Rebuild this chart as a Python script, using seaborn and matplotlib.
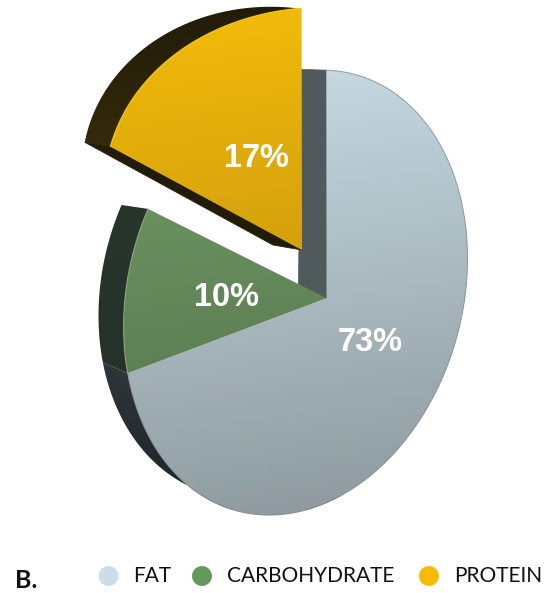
import numpy as np
import matplotlib
matplotlib.use("Agg")
import matplotlib.pyplot as plt
from matplotlib.colors import LinearSegmentedColormap
from matplotlib.patches import Polygon
import seaborn as sns

categories = ["FAT", "CARBOHYDRATE", "PROTEIN"]
values = [73, 10, 17]
pct_labels = ["73%", "10%", "17%"]
legend_colors = ["#c9dee6", "#629a5a", "#f7ba00"]


def fit_h(src, dst):
    # plain DLT, disc coords -> pixels
    rows = []
    for (x, y), (u, v) in zip(src, dst):
        rows.append([x, y, 1, 0, 0, 0, -u * x, -u * y, -u])
        rows.append([0, 0, 0, x, y, 1, -v * x, -v * y, -v])
    _, _, vt = np.linalg.svd(np.array(rows))
    return vt[-1].reshape(3, 3)


def project(h, xy):
    p = np.c_[xy, np.ones(len(xy))] @ h.T
    return p[:, :2] / p[:, 2:]


def gradient(ax, poly, top, bottom, box):
    # near vertical fill clipped to the wedge, bands rise slightly to the right
    cmap = LinearSegmentedColormap.from_list("g", [top, bottom])
    yy, xx = np.mgrid[0:1:100j, 0:1:100j]
    im = ax.imshow(yy + 0.12 * (xx - 0.5), cmap=cmap, extent=box, aspect="auto", zorder=poly.get_zorder(),
                   vmin=-0.06, vmax=1.06)
    im.set_clip_path(poly)


sns.set_theme(style="white")
fig = plt.figure(figsize=(5.58, 5.93), dpi=100)

# pie is only used to get the wedge angles
helper = fig.add_axes([0, 0, 0.1, 0.1])
wedges, _ = helper.pie(values, startangle=90, counterclock=False)
angles = [(w.theta1, w.theta2) for w in wedges]
helper.remove()

ax = fig.add_axes([0, 0, 1, 1])
ax.axis("off")

disc = [(0, 0), (0, 1), (-0.992, -0.125), (-0.876, 0.482), (1, 0), (0, -1)]
h_front = fit_h(disc, [(327, 298), (327, 70), (128, 372), (147, 210), (467, 268), (327, 503)])
h_back = fit_h(disc, [(298, 298), (302, 70), (104, 361), (120, 204), (440, 268), (296, 489)])
disc_p = [(0, 0), (0, 1), (-0.876, 0.482), (-0.5, 0.866), (-0.714, 0.7)]
h_front_p = fit_h(disc_p, [(302, 250), (302, 8), (109, 147), (170, 57), (136, 98)])
h_back_p = fit_h(disc_p, [(273, 245), (296, 8), (82, 142), (147, 43), (113, 90)])

styles = [
    dict(front=h_front, back=h_back, top="#c9dee6", bottom="#8a9599", wall=("#31393e", "#1b2223"),
         side="#50595c", rim="#eef3f5", box=(110, 485, 530, 60), wall_box=(85, 340, 510, 345)),
    dict(front=h_front, back=h_back, top="#6b9160", bottom="#5b7d52", wall=("#27352a", "#25322a"),
         side="#27352a", rim="#86ad7c", box=(115, 335, 385, 200), wall_box=(90, 160, 390, 195)),
    dict(front=h_front_p, back=h_back_p, top="#f6bd0a", bottom="#d2a00d", wall=("#1e1908", "#3a2d0c"),
         side="#211b08", rim="#ffd400", box=(100, 310, 255, 0), wall_box=(75, 310, 155, 0)),
]

for i, ((t1, t2), st) in enumerate(zip(angles, styles)):
    a = np.radians(np.linspace(t2, t1, 160))
    arc = np.c_[np.cos(a), np.sin(a)]
    centre = np.zeros((1, 2))
    base = 10 * i

    f_arc = project(st["front"], arc)
    b_arc = project(st["back"], arc)
    f_c = project(st["front"], centre)
    b_c = project(st["back"], centre)

    strip = Polygon(np.r_[f_arc, b_arc[::-1]], fc="none", ec="none", zorder=base + 1)
    ax.add_patch(strip)
    gradient(ax, strip, st["wall"][0], st["wall"][1], st["wall_box"])
    if i != 1:
        # wall behind the top edge of fat, underside of the pulled out protein slice
        ax.add_patch(Polygon(np.r_[f_arc[:1], b_arc[:1], b_c, f_c], fc=st["side"], ec=st["side"], lw=0.5,
                             zorder=base + 1))

    face = Polygon(np.r_[f_arc, f_c], fc="none", ec="none", zorder=base + 2)
    ax.add_patch(face)
    gradient(ax, face, st["top"], st["bottom"], st["box"])
    if i == 0:
        ax.plot(f_arc[:, 0], f_arc[:, 1], color="#7d888c", lw=0.7, alpha=0.8, zorder=base + 3)
    else:
        ax.plot(f_arc[:, 0], f_arc[:, 1], color=st["rim"], lw=0.9, alpha=0.7, zorder=base + 3)

ax.set_xlim(0, 558)
ax.set_ylim(593, 0)

label_x = [370, 226, 256]
label_y = [342.5, 297.5, 158.5]
for x, y, txt in zip(label_x, label_y, pct_labels):
    ax.text(x, y, txt, color="white", fontsize=23.5, fontweight="bold", family="Liberation Sans",
            ha="center", va="center", zorder=40)

dot_x = [108.5, 202, 429]
text_x = [133, 227, 454]
sns.scatterplot(x=dot_x, y=[576, 576, 576], hue=categories, palette=legend_colors, s=205, linewidth=0,
                legend=False, ax=ax, zorder=40, clip_on=False)
for x, txt in zip(text_x, categories):
    ax.text(x, 576.5, txt, color="#111111", fontsize=15, family="Lato", ha="left", va="center", zorder=40)
ax.text(15, 580, "B.", color="#111111", fontsize=18, fontweight="bold", family="Lato", ha="left", va="center")
ax.set_xlim(0, 558)
ax.set_ylim(593, 0)
ax.axis("off")

fig.savefig("out.png", dpi=100, facecolor="white")
